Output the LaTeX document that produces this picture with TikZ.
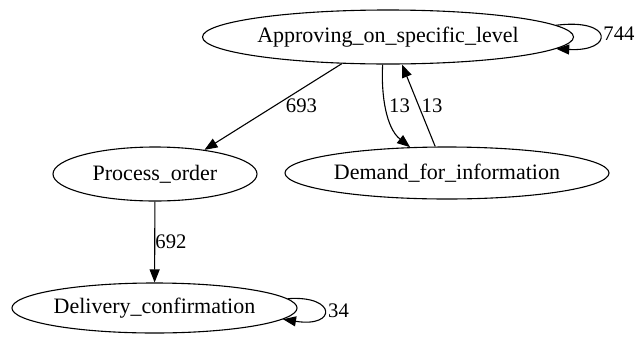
\documentclass[tikz,border=0pt]{standalone}
\usepackage{fontspec}
\setmainfont{Liberation Serif}
\usetikzlibrary{shapes.geometric,arrows.meta}
\begin{document}
\begin{tikzpicture}[x=1pt,y=-1pt,
  state/.style={draw, ellipse, line width=1.1pt, inner sep=0pt, font=\fontsize{22}{26}\selectfont},
  flow/.style={line width=1.1pt, -{Triangle[length=13pt,width=10pt]}},
  count/.style={font=\fontsize{20.7}{24}\selectfont, inner sep=0pt}]
\useasboundingbox (0,0) rectangle (637,338);
% process states
\node[state, minimum width=371pt, minimum height=54pt] (ap) at (388,37) {Approving\_on\_specific\_level};
\node[state, minimum width=204pt, minimum height=54pt] (po) at (155,174) {Process\_order};
\node[state, minimum width=324pt, minimum height=52pt] (df) at (447,173) {Demand\_for\_information};
\node[state, minimum width=285pt, minimum height=50pt] (dc) at (154.5,308) {Delivery\_confirmation};
% transitions
\draw[flow] (ap.210) -- (po.26);
\draw[flow] (ap.259.5) .. controls (381,95) and (386,128) .. (df.145.6);
\draw[flow] (df.114.8) -- (ap.297.5);
\draw[flow] (po) -- (dc);
\draw[flow] (ap.4) .. controls (614,18) and (614,52) .. (ap.-4.5);
\draw[flow] (dc.4) .. controls (337,295) and (337,328) .. (dc.-5.5);
% transition frequencies
\node[count] (n693) at (301.5,106) {693};
\node[count] (n13a) at (399.5,106) {13};
\node[count] (n13b) at (432,106) {13};
\node[count] (n692) at (171,242) {692};
\node[count] (n744) at (619,34) {744};
\node[count] (n34) at (338.5,311) {34};
\end{tikzpicture}
\end{document}
